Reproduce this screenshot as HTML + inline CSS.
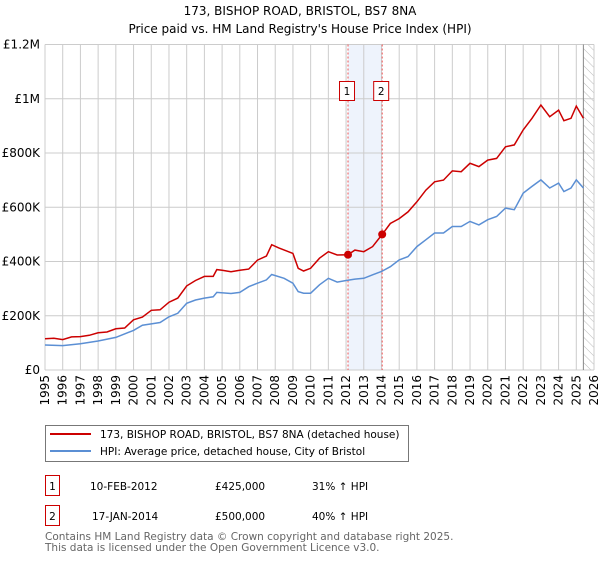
<!DOCTYPE html>
<html><head><meta charset="utf-8"><style>
body{margin:0;background:#fff;width:600px;height:560px;overflow:hidden;font-family:"DejaVu Sans","Liberation Sans",sans-serif}
text{font-family:"DejaVu Sans","Liberation Sans",sans-serif}
</style></head><body>
<svg id="chart" width="600" height="560" xmlns="http://www.w3.org/2000/svg">
<defs><pattern id="hatch" width="6" height="6" patternUnits="userSpaceOnUse" patternTransform="rotate(-45)"><line x1="0" y1="0" x2="0" y2="6" stroke="#bbb" stroke-width="1"/></pattern></defs>
<text x="300" y="15" text-anchor="middle" font-size="12" fill="#000">173, BISHOP ROAD, BRISTOL, BS7 8NA</text>
<text x="300" y="33" text-anchor="middle" font-size="12" fill="#000">Price paid vs. HM Land Registry's House Price Index (HPI)</text>
<g id="grid"></g>
<g id="marks"></g>
<g id="axes"></g>
<g>
<rect x="45.5" y="425.5" width="363" height="36" fill="#fff" stroke="#777"/>
<line x1="50" y1="434" x2="91" y2="434" stroke="#cc0000" stroke-width="2"/>
<text x="100" y="438" font-size="10.5">173, BISHOP ROAD, BRISTOL, BS7 8NA (detached house)</text>
<line x1="50" y1="451" x2="91" y2="451" stroke="#5b8fd4" stroke-width="2"/>
<text x="100" y="455" font-size="10.5">HPI: Average price, detached house, City of Bristol</text>
</g>
<g font-size="10.5">
<rect x="45.5" y="475.5" width="14" height="20" fill="#fff" stroke="#cc0000"/>
<text x="52.5" y="490" text-anchor="middle">1</text>
<text x="90" y="490">10-FEB-2012</text><text x="215" y="490">£425,000</text><text x="312" y="490">31% ↑ HPI</text>
<rect x="45.5" y="505.5" width="14" height="20" fill="#fff" stroke="#cc0000"/>
<text x="52.5" y="520" text-anchor="middle">2</text>
<text x="92" y="520">17-JAN-2014</text><text x="215" y="520">£500,000</text><text x="312" y="520">40% ↑ HPI</text>
</g>
<g font-size="10.5" fill="#666">
<text x="45" y="540">Contains HM Land Registry data © Crown copyright and database right 2025.</text>
<text x="45" y="551">This data is licensed under the Open Government Licence v3.0.</text>
</g>
</svg>
<script>
const redT=[1995,1995.5,1996,1996.5,1997,1997.5,1998,1998.5,1999,1999.5,2000,2000.5,2001,2001.5,2002,2002.5,2003,2003.5,2004,2004.5,2004.7,2005,2005.5,2006,2006.5,2007,2007.5,2007.8,2008.2,2008.6,2009,2009.3,2009.6,2010,2010.5,2011,2011.5,2012.11,2012.5,2013,2013.5,2014.04,2014.5,2015,2015.5,2016,2016.5,2017,2017.5,2018,2018.5,2019,2019.5,2020,2020.5,2021,2021.5,2022,2022.5,2023,2023.5,2024,2024.3,2024.7,2025,2025.4];
const redV=[115,117,112,122,123,128,137,140,152,155,185,195,220,222,250,265,310,330,345,345,370,368,362,368,372,405,420,462,450,440,430,375,365,375,412,436,424,425,442,436,455,500,540,558,583,620,663,694,700,734,731,762,750,774,780,823,830,885,928,977,934,958,919,928,973,928];
const hpiT=[1995,1996,1997,1998,1999,2000,2000.5,2001,2001.5,2002,2002.5,2003,2003.5,2004,2004.5,2004.7,2005.5,2006,2006.5,2007,2007.5,2007.8,2008.5,2009,2009.3,2009.6,2010,2010.5,2011,2011.5,2012,2012.5,2013,2013.5,2014,2014.5,2015,2015.5,2016,2016.5,2017,2017.5,2018,2018.5,2019,2019.5,2020,2020.5,2021,2021.5,2022,2022.5,2023,2023.5,2024,2024.3,2024.7,2025,2025.4];
const hpiV=[92,90,97,107,120,146,165,170,175,196,209,246,258,265,270,286,282,286,307,320,332,352,338,320,289,283,283,314,338,324,330,335,338,351,363,381,406,418,455,480,505,505,529,529,548,535,554,566,597,591,652,677,701,671,689,658,671,701,671];
const saleT=[2012.11,2014.04];
const saleV=[425,500];
const saleLabels=["1","2"];
const yTicks=[0,200,400,600,800,1000,1200];
const yTickLabels=["£0","£200K","£400K","£600K","£800K","£1M","£1.2M"];
const years=[];for(let y=1995;y<=2026;y++)years.push(y);

const X0=45,X1=594,Y0=370,Y1=44.5;
const xs=t=>X0+(t-1995)*(X1-X0)/31;
const ys=v=>Y0-v*(Y0-Y1)/1200;
const NS="http://www.w3.org/2000/svg";
function mk(parent,tag,attrs){const e=document.createElementNS(NS,tag);for(const k in attrs)e.setAttribute(k,attrs[k]);document.getElementById(parent).appendChild(e);return e;}

// shaded region + hatch
let sh=mk('grid','rect',{x:xs(saleT[0]),y:Y1,width:xs(saleT[1])-xs(saleT[0]),height:Y0-Y1,fill:'#eef3fc'});


let ht=mk('grid','rect',{x:xs(2025.4),y:Y1,width:X1-xs(2025.4),height:Y0-Y1,fill:'url(#hatch)'});


years.forEach(y=>{const l=mk('grid','line',{x1:xs(y),x2:xs(y),y1:Y1,y2:Y0,stroke:'#ccc','stroke-width':1});

});
yTicks.forEach((v,i)=>{const l=mk('grid','line',{x1:X0,x2:X1,y1:ys(v),y2:ys(v),stroke:'#ccc','stroke-width':1});


const t=mk('axes','text',{x:X0-5,y:ys(v)+4,'text-anchor':'end','font-size':12});t.textContent=yTickLabels[i];

});
mk('grid','line',{x1:xs(2025.4),x2:xs(2025.4),y1:Y1,y2:Y0,stroke:'#888','stroke-width':1});
years.forEach(y=>{const t=mk('axes','text',{x:0,y:0,'text-anchor':'end','font-size':12,transform:`translate(${xs(y)+4},${Y0+5}) rotate(-90)`});t.textContent=y;

});
// sale lines
saleT.forEach((t,i)=>{const l=mk('marks','line',{x1:xs(t),x2:xs(t),y1:Y1,y2:Y0,stroke:'#e55','stroke-width':1,'stroke-dasharray':'2,2'});

});
const pts=(T,V)=>T.map((t,i)=>xs(t).toFixed(1)+','+ys(V[i]).toFixed(1)).join(' ');
const hp=mk('marks','polyline',{points:pts(hpiT,hpiV),fill:'none',stroke:'#5b8fd4','stroke-width':1.5});


const rp=mk('marks','polyline',{points:pts(redT,redV),fill:'none',stroke:'#cc0000','stroke-width':1.5});


saleT.forEach((t,i)=>{const c=mk('marks','circle',{cx:xs(t),cy:ys(saleV[i]),r:4,fill:'#cc0000'});


const b=mk('marks','rect',{x:xs(t)-8.5,y:81.5,width:15,height:19,fill:'#fff',stroke:'#cc0000'});


const tx=mk('marks','text',{x:xs(t)-1,y:95,'text-anchor':'middle','font-size':10.5});tx.textContent=saleLabels[i];

});
</script>
</body></html>
